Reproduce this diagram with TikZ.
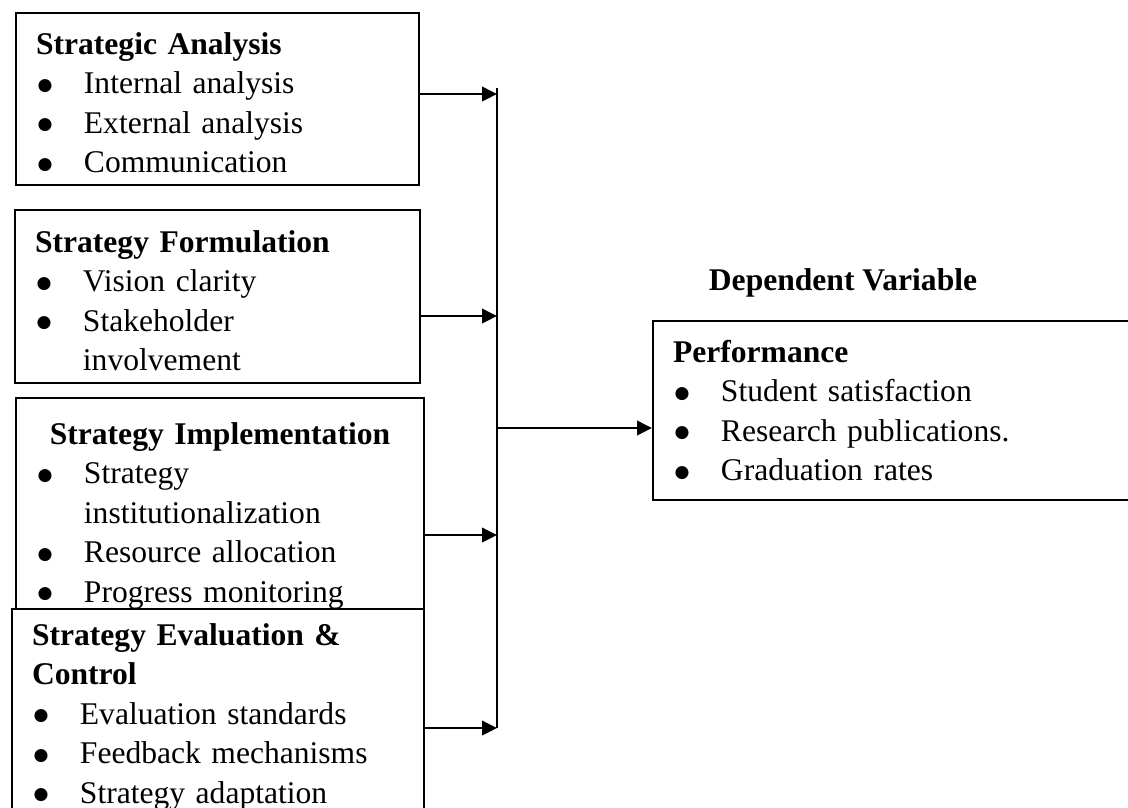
\documentclass[tikz,border=0pt]{standalone}
\usepackage{fontspec}
\setmainfont{Liberation Serif}
\newfontfamily\dotfont{DejaVu Sans}
\usetikzlibrary{arrows.meta}

\newcommand{\bul}[1]{\par\hangindent=18.2pt\hangafter=1\noindent
  \makebox[18.2pt][l]{\hspace{0.6pt}\raisebox{1.2pt}{\dotfont\fontsize{6.5pt}{6.5pt}\selectfont ●}}#1\par}

\begin{document}
\begin{tikzpicture}[x=0.38pt, y=-0.38pt,
                    varbox/.style={draw, line width=0.8pt, anchor=north west,
                                   inner xsep=7.6pt, inner ysep=0pt, align=left,
                                   font=\fontsize{12pt}{15pt}\selectfont},
                    conn/.style={line width=0.8pt},
                    feed/.style={conn, -{Triangle[length=5.7pt, width=5.5pt]}}]
    \useasboundingbox (0,0) rectangle (1128,807);

    \node[varbox, text width=137.9pt, text height=15.6pt, text depth=49.8pt]
        (sa) at (15,12)
        {\textbf{Strategic Analysis}\bul{Internal analysis}\bul{External analysis}\bul{Communication}};
    \node[varbox, text width=138.7pt, text height=16pt, text depth=49.8pt]
        (sf) at (14,209)
        {\textbf{Strategy Formulation}\bul{Vision clarity}\bul{Stakeholder\newline involvement}};
    \node[varbox, text width=139.8pt, text height=17.5pt, text depth=62.7pt]
        (si) at (15,397)
        {{\centering\textbf{Strategy Implementation}\par}\bul{Strategy\newline institutionalization}\bul{Resource allocation}\bul{Progress monitoring}};
    \node[varbox, text width=141.4pt, text height=13.7pt, text depth=73.7pt]
        (se) at (11,608)
        {\textbf{Strategy Evaluation \&\\ Control}\bul{Evaluation standards}\bul{Feedback mechanisms}\bul{Strategy adaptation}};

    \node[font=\fontsize{12pt}{15pt}\selectfont\bfseries] (dv) at (843,283) {Dependent Variable};
    \node[varbox, text width=174.8pt, text height=15.6pt, text depth=52.4pt]
        (perf) at (652,320)
        {\textbf{Performance}\bul{Student satisfaction}\bul{Research publications.}\bul{Graduation rates}};

    % bus line joining the four inputs
    \coordinate (bustop) at (497,88);
    \coordinate (busbot) at (497,728);
    \coordinate (j1) at (497,94);
    \coordinate (j2) at (497,316);
    \coordinate (j3) at (497,535);
    \coordinate (jo) at (497,428);
    \draw[conn] (bustop) -- (busbot);
    \draw[feed] (sa.east |- j1) -- (j1);
    \draw[feed] (sf.east |- j2) -- (j2);
    \draw[feed] (si.east |- j3) -- (j3);
    \draw[feed] (se.east |- busbot) -- (busbot);
    \draw[feed] (jo) -- (perf.west |- jo);
\end{tikzpicture}
\end{document}
